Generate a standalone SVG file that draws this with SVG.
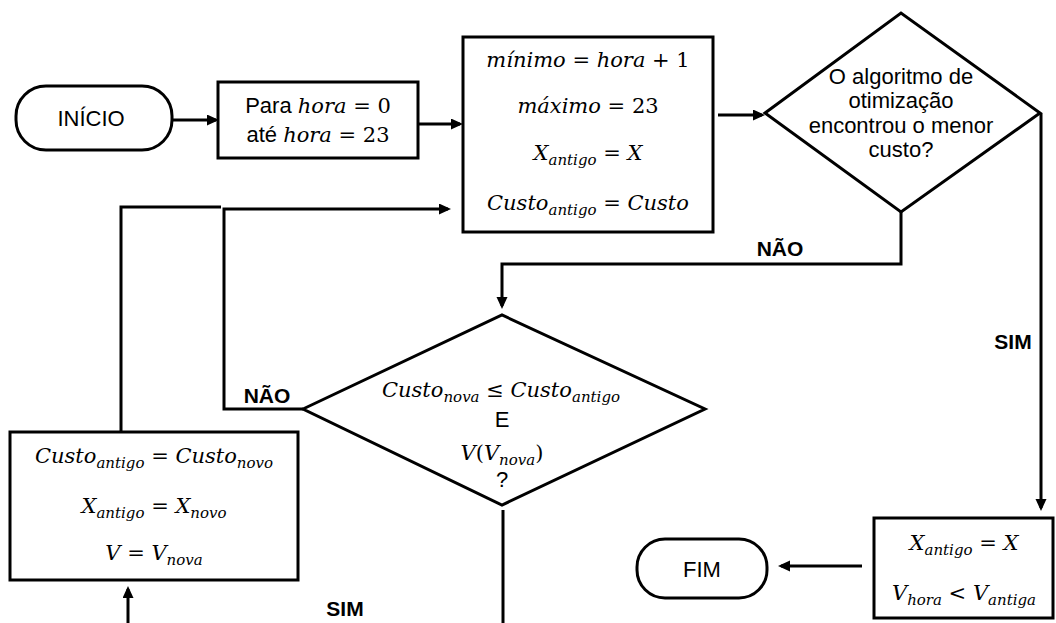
<svg xmlns="http://www.w3.org/2000/svg" width="1056" height="623" viewBox="0 0 1056 623">
<style>
.shape{fill:#fff;stroke:#000;stroke-width:3}
.ln{fill:none;stroke:#000;stroke-width:3}
.t{font-family:"Liberation Sans",Arial,sans-serif;font-size:22px;fill:#000;text-anchor:middle}
.lb{font-family:"Liberation Sans",Arial,sans-serif;font-size:21px;font-weight:bold;fill:#000;text-anchor:middle}
.m{font-family:"DejaVu Serif","Liberation Serif",serif;font-size:21px;fill:#000;text-anchor:middle}
.i{font-style:italic}
.s{font-size:15px;font-style:italic}
</style>
<defs>
<marker id="ah" markerUnits="userSpaceOnUse" markerWidth="14" markerHeight="12" refX="9" refY="5.5" orient="auto">
<path d="M0,0 L12,5.5 L0,11 z" fill="#000"/>
</marker>
</defs>
<rect width="1056" height="623" fill="#fff"/>
<g id="connectors">
<line class="ln" x1="172" y1="120" x2="216" y2="120" marker-end="url(#ah)"/>
<line class="ln" x1="418" y1="124" x2="460" y2="124" marker-end="url(#ah)"/>
<line class="ln" x1="718" y1="115" x2="762" y2="115" marker-end="url(#ah)"/>
<polyline class="ln" points="901,212 901,264 502,264 502,306" marker-end="url(#ah)"/>
<polyline class="ln" points="1041,113 1041,508" marker-end="url(#ah)"/>
<line class="ln" x1="862" y1="566" x2="781" y2="566" marker-end="url(#ah)"/>
<polyline class="ln" points="303,409 224,409 224,209 448,209" marker-end="url(#ah)"/>
<polyline class="ln" points="121,432 121,207 221,207"/>
<line class="ln" x1="503" y1="510" x2="503" y2="623"/>
<line class="ln" x1="128" y1="623" x2="128" y2="589" marker-end="url(#ah)"/>
<text class="lb" x="780" y="256">NÃO</text>
<text class="lb" x="1013" y="349">SIM</text>
<text class="lb" x="267" y="403">NÃO</text>
<text class="lb" x="345" y="616">SIM</text>
</g>
<g id="inicio">
<rect class="shape" x="16" y="86" width="156" height="64" rx="30"/>
<text class="t" x="91" y="126">INÍCIO</text>
</g>
<g id="para">
<rect class="shape" x="218" y="82" width="200" height="76"/>
<text class="t" x="318" y="113">Para <tspan class="m i">hora</tspan><tspan class="m"> = 0</tspan></text>
<text class="t" x="318" y="142">até <tspan class="m i">hora</tspan><tspan class="m"> = 23</tspan></text>
</g>
<g id="init">
<rect class="shape" x="463" y="37" width="250" height="195"/>
<text class="m" x="588" y="67"><tspan class="i">mínimo</tspan> = <tspan class="i">hora</tspan> + 1</text>
<text class="m" x="588" y="113"><tspan class="i">máximo</tspan> = 23</text>
<text class="m" x="588" y="160"><tspan class="i">X</tspan><tspan class="s" dy="5">antigo</tspan><tspan dy="-5"> = </tspan><tspan class="i">X</tspan></text>
<text class="m" x="588" y="210"><tspan class="i">Custo</tspan><tspan class="s" dy="5">antigo</tspan><tspan dy="-5"> = </tspan><tspan class="i">Custo</tspan></text>
</g>
<g id="decisao1">
<polygon class="shape" points="765,113 901,13 1040,113 901,212"/>
<text class="t" x="901" y="84">O algoritmo de</text>
<text class="t" x="901" y="108">otimização</text>
<text class="t" x="901" y="133">encontrou o menor</text>
<text class="t" x="901" y="157">custo?</text>
</g>
<g id="decisao2">
<polygon class="shape" points="303,409 502,315 705,409 502,505"/>
<text class="m" x="501" y="397"><tspan class="i">Custo</tspan><tspan class="s" dy="5">nova</tspan><tspan dy="-5"> ≤ </tspan><tspan class="i">Custo</tspan><tspan class="s" dy="5">antigo</tspan></text>
<text class="t" x="502" y="427">E</text>
<text class="m" x="502" y="460"><tspan class="i">V</tspan>(<tspan class="i">V</tspan><tspan class="s" dy="5">nova</tspan><tspan dy="-5">)</tspan></text>
<text class="t" x="502" y="487">?</text>
</g>
<g id="atualiza">
<rect class="shape" x="10" y="432" width="288" height="148"/>
<text class="m" x="154" y="463"><tspan class="i">Custo</tspan><tspan class="s" dy="5">antigo</tspan><tspan dy="-5"> = </tspan><tspan class="i">Custo</tspan><tspan class="s" dy="5">novo</tspan></text>
<text class="m" x="154" y="513"><tspan class="i">X</tspan><tspan class="s" dy="5">antigo</tspan><tspan dy="-5"> = </tspan><tspan class="i">X</tspan><tspan class="s" dy="5">novo</tspan></text>
<text class="m" x="154" y="560"><tspan class="i">V</tspan> = <tspan class="i">V</tspan><tspan class="s" dy="5">nova</tspan></text>
</g>
<g id="final">
<rect class="shape" x="874" y="518" width="179" height="100"/>
<text class="m" x="964" y="550"><tspan class="i">X</tspan><tspan class="s" dy="5">antigo</tspan><tspan dy="-5"> = </tspan><tspan class="i">X</tspan></text>
<text class="m" x="964" y="600"><tspan class="i">V</tspan><tspan class="s" dy="5">hora</tspan><tspan dy="-5"> &lt; </tspan><tspan class="i">V</tspan><tspan class="s" dy="5">antiga</tspan></text>
</g>
<g id="fim">
<rect class="shape" x="637" y="539" width="130" height="59" rx="28"/>
<text class="t" x="702" y="577">FIM</text>
</g>
</svg>
